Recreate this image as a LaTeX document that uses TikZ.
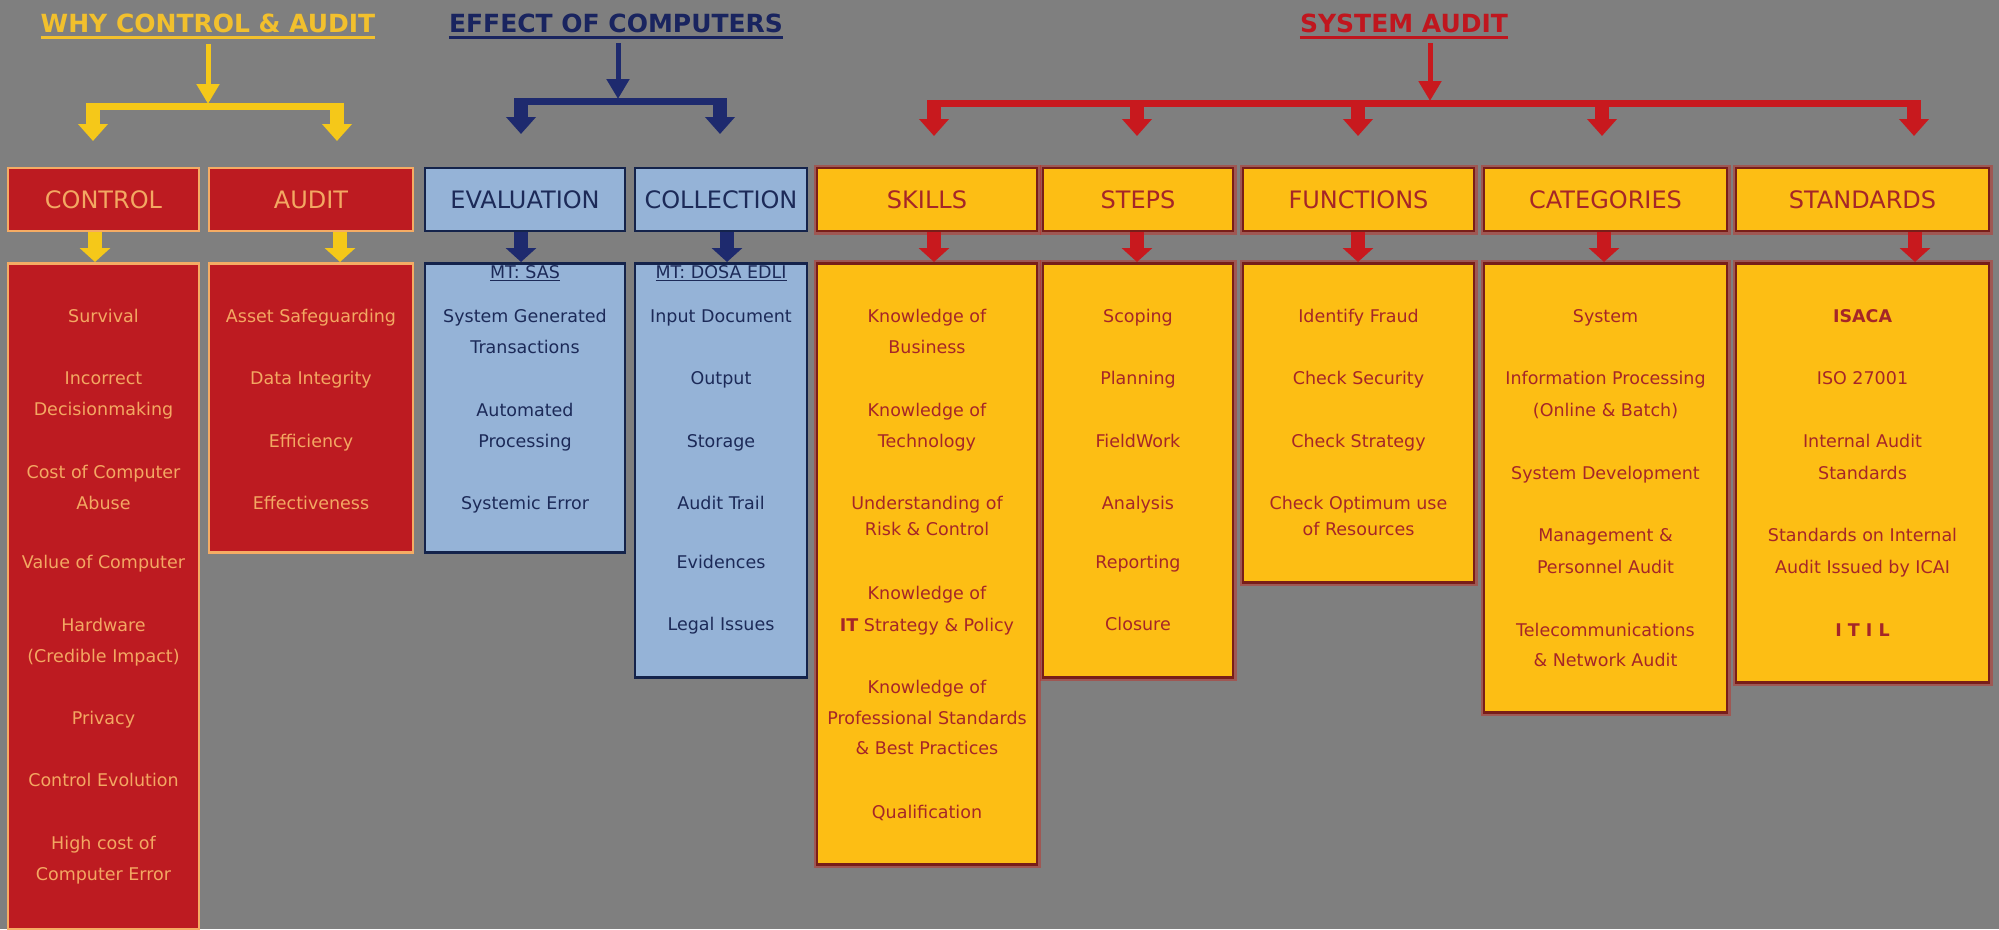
\documentclass[tikz,border=0pt]{standalone}
\usepackage{fontspec}
\setmainfont{DejaVu Sans}
\usetikzlibrary{arrows.meta}
\definecolor{bgc}{RGB}{127,127,127}
\definecolor{redFill}{RGB}{189,27,33}
\definecolor{redEdge}{RGB}{245,172,100}
\definecolor{redText}{RGB}{243,168,98}
\definecolor{blueFill}{RGB}{149,179,215}
\definecolor{blueEdge}{RGB}{20,35,75}
\definecolor{blueText}{RGB}{28,42,88}
\definecolor{yelFill}{RGB}{253,190,20}
\definecolor{yelEdge}{RGB}{120,30,25}
\definecolor{yelText}{RGB}{165,38,40}
\definecolor{glow}{RGB}{200,40,30}
\definecolor{arrYel}{RGB}{245,200,25}
\definecolor{arrBlue}{RGB}{30,42,110}
\definecolor{arrRed}{RGB}{200,25,30}
\definecolor{titYel}{RGB}{242,192,45}
\definecolor{titBlue}{RGB}{25,36,95}
\definecolor{titRed}{RGB}{192,22,30}
\tikzset{
  box/.style={rectangle, inner sep=0pt, line width=2.5pt},
  hdr/.style={box, minimum height=63pt, font=\fontsize{24}{28}\selectfont},
  hRed/.style={hdr, fill=redFill, draw=redEdge, text=redText},
  hBlue/.style={hdr, fill=blueFill, draw=blueEdge, text=blueText},
  hYel/.style={hdr, fill=yelFill, draw=yelEdge, text=yelText,
    preaction={draw=glow, line width=7pt, draw opacity=.45}},
  cRed/.style={box, anchor=north, fill=redFill, draw=redEdge},
  cBlue/.style={box, anchor=north, fill=blueFill, draw=blueEdge},
  cYel/.style={box, anchor=north, fill=yelFill, draw=yelEdge,
    preaction={draw=glow, line width=7pt, draw opacity=.45}},
  txt/.style={anchor=mid, inner sep=0pt, font=\fontsize{17.5}{21}\selectfont},
  tRed/.style={txt, text=redText},
  tBlue/.style={txt, text=blueText},
  tYel/.style={txt, text=yelText},
  title/.style={inner sep=0pt, text height=18pt, text depth=0pt,
    font=\fontsize{25}{30}\selectfont\bfseries},
  uline/.style={line width=3pt},
  tarrow/.style={line width=5pt, -{Triangle[width=22pt,length=20pt]}},
  barline/.style={line width=7pt},
  darrow/.style={line width=14pt, -{Triangle[width=29pt,length=17pt]}},
  sarrow/.style={line width=14pt, -{Triangle[width=30pt,length=14pt]}},
}
\begin{document}
\begin{tikzpicture}[x=1pt,y=-1pt]
\fill[bgc] (0,0) rectangle (1999,929);
\useasboundingbox (0,0) rectangle (1999,929);

% ---------- titles ----------
\node[title, text=titYel] (tWhy) at (208,23) {WHY CONTROL \& AUDIT};
\node[title, text=titBlue] (tEff) at (616,23) {EFFECT OF COMPUTERS};
\node[title, text=titRed] (tSys) at (1404,23) {SYSTEM AUDIT};
\draw[uline, titYel] ([yshift=-5pt]tWhy.south west) -- ([yshift=-5pt]tWhy.south east);
\draw[uline, titBlue] ([yshift=-5pt]tEff.south west) -- ([yshift=-5pt]tEff.south east);
\draw[uline, titRed] ([yshift=-5pt]tSys.south west) -- ([yshift=-5pt]tSys.south east);

% ---------- header boxes ----------
\node[hRed, minimum width=191pt] (hCtrl) at (103.5,199.5) {CONTROL};
\node[hRed, minimum width=204pt] (hAud) at (311,199.5) {AUDIT};
\node[hBlue, minimum width=200pt] (hEval) at (525,199.5) {EVALUATION};
\node[hBlue, minimum width=172pt] (hColl) at (721,199.5) {COLLECTION};
\node[hYel, minimum width=220pt] (hSkill) at (927,199.5) {SKILLS};
\node[hYel, minimum width=190pt] (hSteps) at (1138,199.5) {STEPS};
\node[hYel, minimum width=231pt] (hFunc) at (1358.5,199.5) {FUNCTIONS};
\node[hYel, minimum width=243pt] (hCat) at (1605.5,199.5) {CATEGORIES};
\node[hYel, minimum width=253pt] (hStd) at (1862.5,199.5) {STANDARDS};

% ---------- content boxes ----------
\node[cRed, minimum width=191pt, minimum height=666pt] (cCtrl) at (103.5,262) {};
\node[cRed, minimum width=204pt, minimum height=289pt] (cAud) at (311,262) {};
\node[cBlue, minimum width=200pt, minimum height=289pt] (cEval) at (525,262) {};
\node[cBlue, minimum width=172pt, minimum height=414pt] (cColl) at (721,262) {};
\node[cYel, minimum width=220pt, minimum height=601pt] (cSkill) at (927,262) {};
\node[cYel, minimum width=190pt, minimum height=414pt] (cSteps) at (1138,262) {};
\node[cYel, minimum width=231pt, minimum height=319pt] (cFunc) at (1358.5,262) {};
\node[cYel, minimum width=243pt, minimum height=449pt] (cCat) at (1605.5,262) {};
\node[cYel, minimum width=253pt, minimum height=419pt] (cStd) at (1862.5,262) {};

% ---------- texts ----------
\foreach \t/\y [count=\i] in {Survival/320, Incorrect/382, Decisionmaking/413,
  Cost of Computer/476, Abuse/507, Value of Computer/566, Hardware/629,
  (Credible Impact)/660, Privacy/722, Control Evolution/784, High cost of/847,
  Computer Error/878}
  \node[tRed] (ctrl\i) at (103.5,\y) {\t};
\foreach \t/\y [count=\i] in {Asset Safeguarding/320, Data Integrity/382,
  Efficiency/445, Effectiveness/507}
  \node[tRed] (aud\i) at (311,\y) {\t};
\foreach \t/\y [count=\i] in {{\underline{MT: SAS}}/276, System Generated/320,
  Transactions/351, Automated/414, Processing/445, Systemic Error/507}
  \node[tBlue] (eval\i) at (525,\y) {\t};
\foreach \t/\y [count=\i] in {{\underline{MT: DOSA EDLI}}/276, Input Document/320,
  Output/382, Storage/445, Audit Trail/507, Evidences/566, Legal Issues/628}
  \node[tBlue] (coll\i) at (721,\y) {\t};
\foreach \t/\y [count=\i] in {Knowledge of/320, Business/351, Knowledge of/414,
  Technology/445, Understanding of/507, Risk \& Control/533, Knowledge of/597,
  {\textbf{IT} Strategy \& Policy}/629, Knowledge of/691,
  Professional Standards/722, \& Best Practices/752, Qualification/816}
  \node[tYel] (skill\i) at (927,\y) {\t};
\foreach \t/\y [count=\i] in {Scoping/320, Planning/382, FieldWork/445,
  Analysis/507, Reporting/566, Closure/628}
  \node[tYel] (step\i) at (1138,\y) {\t};
\foreach \t/\y [count=\i] in {Identify Fraud/320, Check Security/382,
  Check Strategy/445, Check Optimum use/507, of Resources/533}
  \node[tYel] (func\i) at (1358.5,\y) {\t};
\foreach \t/\y [count=\i] in {System/320, Information Processing/382,
  (Online \& Batch)/414, System Development/477, Management \&/539,
  Personnel Audit/571, Telecommunications/634, \& Network Audit/664}
  \node[tYel] (cat\i) at (1605.5,\y) {\t};
\foreach \t/\y [count=\i] in {{\textbf{ISACA}}/320, ISO 27001/382,
  Internal Audit/445, Standards/477, Standards on Internal/539,
  Audit Issued by ICAI/571, {\textbf{I T I L}}/634}
  \node[tYel] (std\i) at (1862.5,\y) {\t};

% ---------- bracket coordinates ----------
\coordinate (wTop) at (208,44);   \coordinate (wMid) at (208,104);
\coordinate (wL) at (93,106);     \coordinate (wR) at (337,106);
\coordinate (wLt) at (93,141);    \coordinate (wRt) at (337,141);
\coordinate (eTop) at (618,43);   \coordinate (eMid) at (618,99);
\coordinate (eL) at (521,101);    \coordinate (eR) at (720,101);
\coordinate (eLt) at (521,134);   \coordinate (eRt) at (720,134);
\coordinate (sTop) at (1430,43);  \coordinate (sMid) at (1430,101);
\coordinate (s1) at (934,103);    \coordinate (s1t) at (934,136);
\coordinate (s2) at (1137,103);   \coordinate (s2t) at (1137,136);
\coordinate (s3) at (1358,103);   \coordinate (s3t) at (1358,136);
\coordinate (s4) at (1602,103);   \coordinate (s4t) at (1602,136);
\coordinate (s5) at (1914,103);   \coordinate (s5t) at (1914,136);

% yellow bracket
\draw[tarrow, arrYel] (wTop) -- (wMid);
\draw[barline, arrYel] (wL) -- (wR);
\draw[darrow, arrYel] ([yshift=3pt]wL) -- (wLt);
\draw[darrow, arrYel] ([yshift=3pt]wR) -- (wRt);
% blue bracket
\draw[tarrow, arrBlue] (eTop) -- (eMid);
\draw[barline, arrBlue] (eL) -- (eR);
\draw[darrow, arrBlue] ([yshift=3pt]eL) -- (eLt);
\draw[darrow, arrBlue] ([yshift=3pt]eR) -- (eRt);
% red bracket
\draw[tarrow, arrRed] (sTop) -- (sMid);
\draw[barline, arrRed] (s1) -- (s5);
\foreach \k in {1,...,5}
  \draw[darrow, arrRed] ([yshift=3pt]s\k) -- (s\k t);

% ---------- small arrows header -> content ----------
\coordinate (x1) at (95,0);   \coordinate (x2) at (340,0);
\coordinate (x3) at (521,0);  \coordinate (x4) at (727,0);
\coordinate (x5) at (934,0);  \coordinate (x6) at (1137,0);
\coordinate (x7) at (1358,0); \coordinate (x8) at (1604,0);
\coordinate (x9) at (1915,0);
\draw[sarrow, arrYel] (hCtrl.south -| x1) -- (cCtrl.north -| x1);
\draw[sarrow, arrYel] (hAud.south -| x2) -- (cAud.north -| x2);
\draw[sarrow, arrBlue] (hEval.south -| x3) -- (cEval.north -| x3);
\draw[sarrow, arrBlue] (hColl.south -| x4) -- (cColl.north -| x4);
\draw[sarrow, arrRed] (hSkill.south -| x5) -- (cSkill.north -| x5);
\draw[sarrow, arrRed] (hSteps.south -| x6) -- (cSteps.north -| x6);
\draw[sarrow, arrRed] (hFunc.south -| x7) -- (cFunc.north -| x7);
\draw[sarrow, arrRed] (hCat.south -| x8) -- (cCat.north -| x8);
\draw[sarrow, arrRed] (hStd.south -| x9) -- (cStd.north -| x9);
\end{tikzpicture}
\end{document}
